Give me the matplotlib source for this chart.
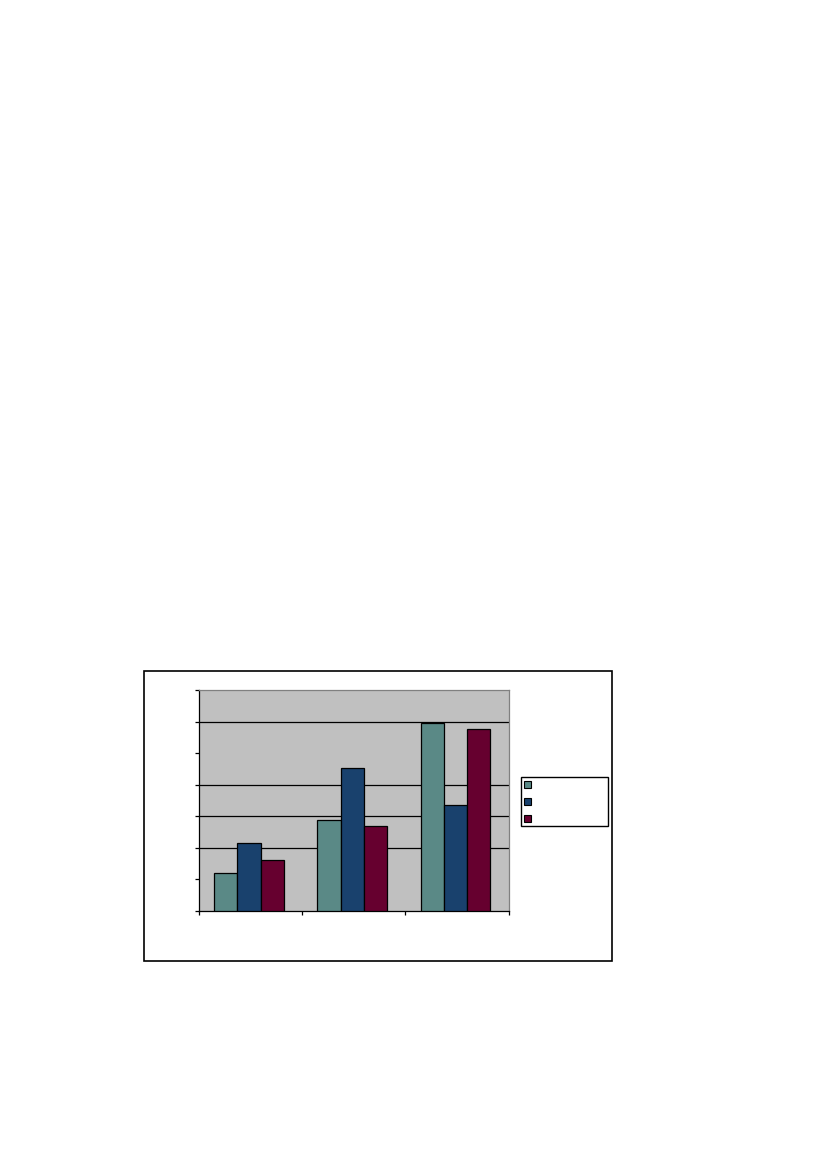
import numpy as np
import matplotlib
matplotlib.use("Agg")
import matplotlib.pyplot as plt
from matplotlib.patches import Rectangle

W = 826
H = 1169

categories = ["A", "B", "C"]
series_a = [1.19, 2.87, 5.95]
series_b = [2.14, 4.52, 3.35]
series_c = [1.61, 2.68, 5.76]
colors = ["#5a8986", "#19416d", "#66002f"]
grid_at = [2, 3, 4, 6]

def fx(px):
    return px / W

def fy(py):
    return 1 - py / H

fig = plt.figure(figsize=(W / 100, H / 100), dpi=100)

# chart border
fig.patches.append(Rectangle((fx(143.5), fy(961)), fx(611.5) - fx(143.5), fy(670.5) - fy(961),
                             transform=fig.transFigure, fill=False, edgecolor="black", lw=1.2))

ax = fig.add_axes([fx(198.5), fy(911), fx(508.5) - fx(198.5), fy(690) - fy(911)])
ax.set_facecolor("#c0c0c0")

x = np.arange(len(categories))
bw = 0.225
for i, vals in enumerate([series_a, series_b, series_c]):
    ax.bar(x + (i - 1) * bw - 0.012, vals, width=bw, color=colors[i], edgecolor="black", lw=0.9, zorder=3)

for g in grid_at:
    ax.axhline(g, color="black", lw=0.9, zorder=1)

ax.set_xlim(-0.5, 2.5)
ax.set_ylim(0, 7)
ax.set_yticks(range(8))
ax.set_xticks([-0.5, 0.5, 1.5, 2.5])
ax.set_xticklabels([])
ax.set_yticklabels([])
ax.tick_params(axis="both", direction="out", length=3, width=0.9, color="black")
ax.spines["left"].set_color("black")
ax.spines["bottom"].set_color("black")
ax.spines["top"].set_color("#808080")
ax.spines["right"].set_color("#808080")
for s in ax.spines.values():
    s.set_linewidth(0.9)

# legend box
fig.patches.append(Rectangle((fx(520.5), fy(825.5)), fx(607.5) - fx(520.5), fy(776.5) - fy(825.5),
                             transform=fig.transFigure, fill=False, edgecolor="black", lw=1.0))
for i, yc in enumerate([784.7, 801.3, 818.3]):
    fig.patches.append(Rectangle((fx(523.5), fy(yc + 3.5)), fx(7), fy(0) - fy(7),
                                 transform=fig.transFigure, facecolor=colors[i], edgecolor="black", lw=0.8))

fig.savefig("out.png", dpi=100)
